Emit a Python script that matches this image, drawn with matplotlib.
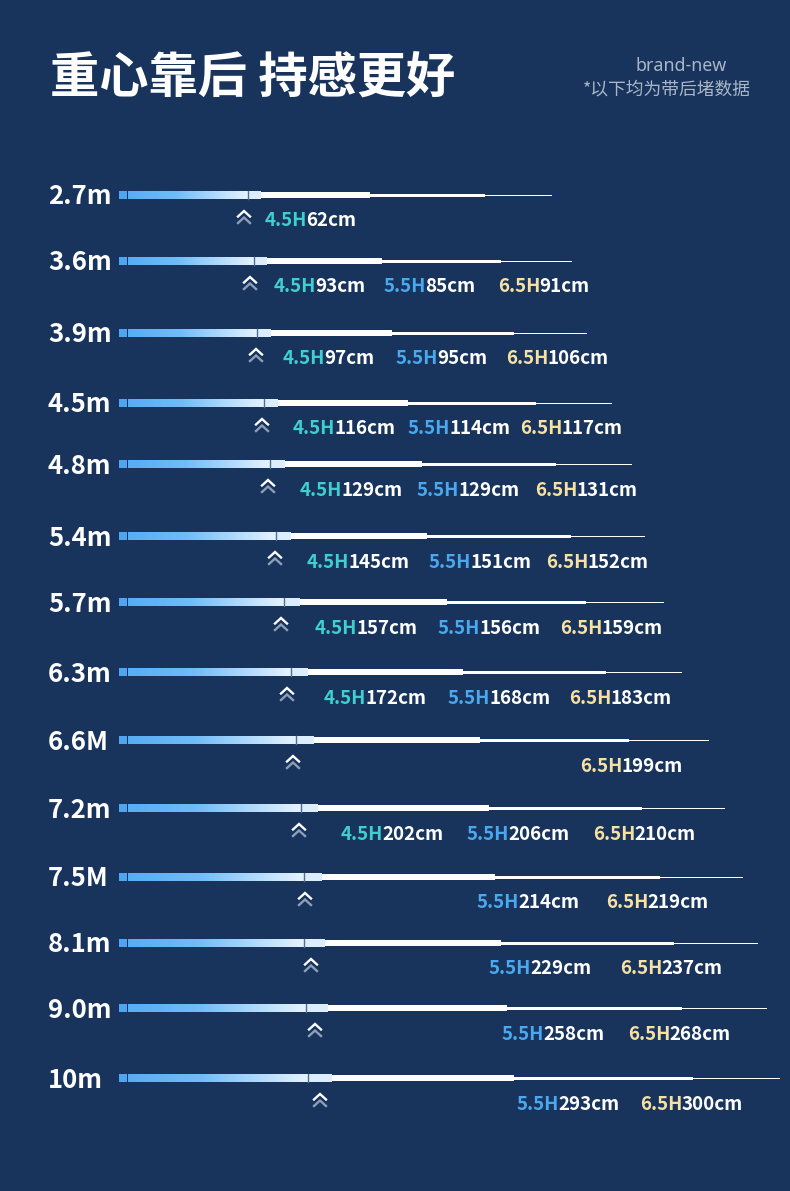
import matplotlib
matplotlib.use('Agg')
import matplotlib.pyplot as plt
from matplotlib.colors import LinearSegmentedColormap
from matplotlib.patches import Rectangle
import numpy as np

# rod lengths and balance point (cm, with butt cap) per hardness, None = not offered
lengths = ['2.7m', '3.6m', '3.9m', '4.5m', '4.8m', '5.4m', '5.7m',
           '6.3m', '6.6M', '7.2m', '7.5M', '8.1m', '9.0m', '10m']
bal_45 = [62, 93, 97, 116, 129, 145, 157, 172, None, 202, None, None, None, None]
bal_55 = [None, 85, 95, 114, 129, 151, 156, 168, None, 206, 214, 229, 258, 293]
bal_65 = [None, 91, 106, 117, 131, 152, 159, 183, 199, 210, 219, 237, 268, 300]
hardness = ['4.5H', '5.5H', '6.5H']

# schematic rod drawing (px from left edge)
row_y = [195, 261, 333, 403, 464, 536, 602, 672, 740, 808, 877, 943, 1008, 1078]
grip_end = [248, 254, 257, 264, 270, 276, 284, 291, 296, 301, 304, 304, 306, 308]
joint_end = [261, 267, 271, 278, 285, 291, 300, 308, 314, 318, 322, 325, 328, 332]
thick_end = [370, 382, 392, 408, 422, 427, 447, 463, 480, 489, 495, 501, 507, 514]
mid_end = [485, 501, 514, 536, 556, 571, 586, 606, 629, 642, 660, 674, 682, 693]
tip_end = [552, 572, 587, 612, 632, 645, 664, 682, 709, 725, 743, 758, 767, 780]
chev_x = [244, 250, 256, 262, 268, 275, 281, 287, 293, 299, 305, 311, 315, 320]
lab_x45 = [265, 274, 283, 293, 300, 307, 315, 324, None, 341, None, None, None, None]
lab_x55 = [None, 384, 396, 408, 417, 429, 438, 448, None, 467, 477, 489, 502, 517]
lab_x65 = [None, 498, 506, 520, 535, 546, 560, 569, 580, 593, 606, 620, 628, 640]

BG = '#18345c'
H_COLORS = ['#3fcfcc', '#4aa8ee', '#f6e0a2']
FONT = ['Noto Sans CJK SC', 'DejaVu Sans']

W, H = 790, 1191
fig = plt.figure(figsize=(W / 100, H / 100), dpi=100, facecolor=BG)
ax = fig.add_axes([0, 0, 1, 1])
ax.set_facecolor(BG)
ax.axis('off')
ax.set_xlim(0, W)
ax.set_ylim(H, 0)

grip_cmap = LinearSegmentedColormap.from_list(
    'grip', [(0, '#58adf5'), (0.4, '#70bcf8'), (1, '#e6f3ff')])
grad = np.linspace(0, 1, 256).reshape(1, -1)

renderer = fig.canvas.get_renderer()


def text_w(s, size):
    # width in px of a bold label
    t = ax.text(0, 0, s, fontsize=size, fontweight='bold', family=FONT)
    w = t.get_window_extent(renderer).width
    t.remove()
    return w


def two_tone(x, y, head, tail, color, size):
    # coloured hardness + white value, kept tight like one word
    x2 = x + text_w(head + tail, size) - text_w(tail, size) - 1
    ax.text(x, y, head, color=color, fontsize=size, fontweight='bold',
            family=FONT, va='baseline', ha='left')
    ax.text(x2, y, tail, color='white', fontsize=size, fontweight='bold',
            family=FONT, va='baseline', ha='left')


for i, name in enumerate(lengths):
    y = row_y[i]
    ax.text(48, y + 9.5, name, color='white', fontsize=18.5, fontweight='bold',
            family=FONT, va='baseline', ha='left')

    # butt cap
    ax.add_patch(Rectangle((119, y - 4), 7.5, 8, color='#4ea6f2', lw=0))
    # grip gradient
    ax.imshow(grad, cmap=grip_cmap, extent=[128, grip_end[i] - 0.5, y + 4, y - 4],
              aspect='auto', interpolation='bilinear', zorder=2)
    ax.plot([grip_end[i], grip_end[i]], [y - 4, y + 4], color='#4d6f96', lw=1.0, zorder=3)
    ax.add_patch(Rectangle((grip_end[i] + 1, y - 4), joint_end[i] - grip_end[i] - 1, 8,
                           color='#dcedff', lw=0, zorder=2))
    # blank sections, thinner towards the tip
    ax.add_patch(Rectangle((joint_end[i], y - 3), thick_end[i] - joint_end[i], 6,
                           color='white', lw=0, zorder=2))
    ax.add_patch(Rectangle((thick_end[i], y - 1.5), mid_end[i] - thick_end[i], 3,
                           color='white', lw=0, zorder=2))
    ax.add_patch(Rectangle((mid_end[i], y - 0.5), tip_end[i] - mid_end[i], 1.2,
                           color='white', lw=0, zorder=2))

    # balance marker
    ty = y + 25
    cx = chev_x[i]
    cy = ty - 2
    ax.plot([cx - 6, cx, cx + 6], [cy - 1.5, cy - 7, cy - 1.5], color='white', lw=1.7,
            solid_joinstyle='miter', zorder=3)
    ax.plot([cx - 6, cx, cx + 6], [cy + 5, cy - 0.5, cy + 5], color='#8d9fb8', lw=1.7,
            solid_joinstyle='miter', zorder=3)

    for vals, xs, hname, col in zip([bal_45, bal_55, bal_65],
                                    [lab_x45, lab_x55, lab_x65],
                                    hardness, H_COLORS):
        if vals[i] is None:
            continue
        two_tone(xs[i], ty + 6.5, hname, f'{vals[i]}cm', col, 13.5)

ax.text(50, 75 + 18.5, '重心靠后 持感更好', color='white', fontsize=35.5, fontweight='bold',
        family=FONT, va='baseline', ha='left')
ax.text(681, 66, 'brand-new', color='#aab6c8', fontsize=12.8, fontweight='light',
        family=['Noto Sans', 'DejaVu Sans'], va='center', ha='center')
ax.text(667, 89, '*以下均为带后堵数据', color='#aab6c8', fontsize=12.8, fontweight='light',
        family=FONT, va='center', ha='center')

ax.set_xlim(0, W)
ax.set_ylim(H, 0)
fig.savefig('out.png', dpi=100, facecolor=BG)
